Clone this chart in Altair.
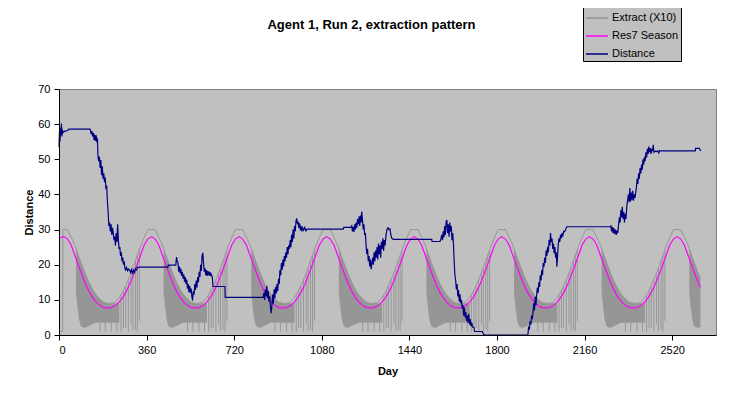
import altair as alt
import pandas as pd

FONT = "Liberation Sans"
chart_title = "Agent 1, Run 2, extraction pattern"
series_names = ["Extract (X10)", "Res7 Season", "Distance"]
series_colors = ["#969696", "#FF00FF", "#000080"]
x_ticks = [0, 360, 720, 1080, 1440, 1800, 2160, 2520]
y_ticks = [0, 10, 20, 30, 40, 50, 60, 70]

# sample days shared by the season curve and the extract envelope
grid_days = [
    20, 35, 50, 65, 80, 95, 110, 125, 140, 155, 170, 185, 200, 215, 230, 245, 260, 275, 290, 305, 320, 335, 350, 365,
    380, 395, 410, 425, 440, 455, 470, 485, 500, 515, 530, 545, 560, 575, 590, 605, 620, 635, 650, 665, 680, 695, 710, 725,
    740, 755, 770, 785, 800, 815, 830, 845, 860, 875, 890, 905, 920, 935, 950, 965, 980, 995, 1010, 1025, 1040, 1055, 1070, 1085,
    1100, 1115, 1130, 1145, 1160, 1175, 1190, 1205, 1220, 1235, 1250, 1265, 1280, 1295, 1310, 1325, 1340, 1355, 1370, 1385, 1400, 1415, 1430, 1445,
    1460, 1475, 1490, 1505, 1520, 1535, 1550, 1565, 1580, 1595, 1610, 1625, 1640, 1655, 1670, 1685, 1700, 1715, 1730, 1745, 1760, 1775, 1790, 1805,
    1820, 1835, 1850, 1865, 1880, 1895, 1910, 1925, 1940, 1955, 1970, 1985, 2000, 2015, 2030, 2045, 2060, 2075, 2090, 2105, 2120, 2135, 2150, 2165,
    2180, 2195, 2210, 2225, 2240, 2255, 2270, 2285, 2300, 2315, 2330, 2345, 2360, 2375, 2390, 2405, 2420, 2435, 2450, 2465, 2480, 2495, 2510, 2525,
    2540, 2555, 2570, 2585, 2600, 2615, 2630, 2636,
]

# Res7 Season (day 0 first, then grid_days)
season_vals = [
    27.6,
    28.0, 27.3, 25.6, 22.7, 19.8, 17.0, 14.4, 12.2, 10.5, 9.2, 8.3, 7.8, 7.7, 7.8, 8.3, 9.2, 10.5, 12.2, 14.4, 17.0, 19.8, 22.7, 25.6, 27.3,
    28.0, 27.3, 25.6, 22.7, 19.8, 17.0, 14.4, 12.2, 10.5, 9.2, 8.3, 7.8, 7.7, 7.8, 8.3, 9.2, 10.5, 12.2, 14.4, 17.0, 19.8, 22.7, 25.6, 27.3,
    28.0, 27.3, 25.6, 22.7, 19.8, 17.0, 14.4, 12.2, 10.5, 9.2, 8.3, 7.8, 7.7, 7.8, 8.3, 9.2, 10.5, 12.2, 14.4, 17.0, 19.8, 22.7, 25.6, 27.3,
    28.0, 27.3, 25.6, 22.7, 19.8, 17.0, 14.4, 12.2, 10.5, 9.2, 8.3, 7.8, 7.7, 7.8, 8.3, 9.2, 10.5, 12.2, 14.4, 17.0, 19.8, 22.7, 25.6, 27.3,
    28.0, 27.3, 25.6, 22.7, 19.8, 17.0, 14.4, 12.2, 10.5, 9.2, 8.3, 7.8, 7.7, 7.8, 8.3, 9.2, 10.5, 12.2, 14.4, 17.0, 19.8, 22.7, 25.6, 27.3,
    28.0, 27.3, 25.6, 22.7, 19.8, 17.0, 14.4, 12.2, 10.5, 9.2, 8.3, 7.8, 7.7, 7.8, 8.3, 9.2, 10.5, 12.2, 14.4, 17.0, 19.8, 22.7, 25.6, 27.3,
    28.0, 27.3, 25.6, 22.7, 19.8, 17.0, 14.4, 12.2, 10.5, 9.2, 8.3, 7.8, 7.7, 7.8, 8.3, 9.2, 10.5, 12.2, 14.4, 17.0, 19.8, 22.7, 25.6, 27.3,
    28.0, 27.3, 25.6, 22.7, 19.8, 17.0, 14.4,
    13.6,
]

# Extract (X10) upper outline (days 0, 15, 16, then grid_days)
extract_top_vals = [
    1.0, 1.0, 30.0,
    30.0, 30.0, 27.8, 25.6, 22.6, 19.8, 17.1, 14.7, 12.7, 11.2, 10.1, 9.2, 9.0, 9.0, 9.3, 10.4, 12.0, 14.2, 16.6, 19.4, 22.3, 25.2, 27.8, 30.0,
    30.0, 30.0, 27.8, 25.6, 22.6, 19.8, 17.1, 14.7, 12.7, 11.2, 10.1, 9.2, 9.0, 9.0, 9.3, 10.4, 12.0, 14.2, 16.6, 19.4, 22.3, 25.2, 27.8, 30.0,
    30.0, 30.0, 27.8, 25.6, 22.6, 19.8, 17.1, 14.7, 12.7, 11.2, 10.1, 9.2, 9.0, 9.0, 9.3, 10.4, 12.0, 14.2, 16.6, 19.4, 22.3, 25.2, 27.8, 30.0,
    30.0, 30.0, 27.8, 25.6, 22.6, 19.8, 17.1, 14.7, 12.7, 11.2, 10.1, 9.2, 9.0, 9.0, 9.3, 10.4, 12.0, 14.2, 16.6, 19.4, 22.3, 25.2, 27.8, 30.0,
    30.0, 30.0, 27.8, 25.6, 22.6, 19.8, 17.1, 14.7, 12.7, 11.2, 10.1, 9.2, 9.0, 9.0, 9.3, 10.4, 12.0, 14.2, 16.6, 19.4, 22.3, 25.2, 27.8, 30.0,
    30.0, 30.0, 27.8, 25.6, 22.6, 19.8, 17.1, 14.7, 12.7, 11.2, 10.1, 9.2, 9.0, 9.0, 9.3, 10.4, 12.0, 14.2, 16.6, 19.4, 22.3, 25.2, 27.8, 30.0,
    30.0, 30.0, 27.8, 25.6, 22.6, 19.8, 17.1, 14.7, 12.7, 11.2, 10.1, 9.2, 9.0, 9.0, 9.3, 10.4, 12.0, 14.2, 16.6, 19.4, 22.3, 25.2, 27.8, 30.0,
    30.0, 30.0, 27.8, 25.6, 22.6, 19.8, 17.1,
    16.1,
]

# Extract (X10) densely oscillating stretches: (cycle, day, low, high)
extract_band = [
    (0, 70, 12.0, 24.6), (0, 76, 8.0, 23.4), (0, 82, 4.5, 22.2), (0, 90, 2.5, 20.7), (0, 105, 2.0, 18.0), (0, 120, 2.5, 15.5), (0, 135, 3.0, 13.4),
    (0, 150, 3.5, 11.7), (0, 160, 3.5, 10.8), (0, 180, 3.5, 9.5), (0, 200, 3.5, 9.0), (0, 220, 3.5, 9.0), (0, 235, 3.5, 9.0), (0, 248, 3.5, 9.0),
    (1, 430, 12.0, 24.6), (1, 436, 8.0, 23.4), (1, 442, 4.5, 22.2), (1, 450, 2.5, 20.7), (1, 465, 2.0, 18.0), (1, 480, 2.5, 15.5), (1, 495, 3.0, 13.4),
    (1, 510, 3.5, 11.7), (1, 520, 3.5, 10.8), (1, 540, 3.5, 9.5), (1, 560, 3.5, 9.0), (1, 580, 3.5, 9.0), (1, 595, 3.5, 9.0), (1, 608, 3.5, 9.0),
    (2, 790, 12.0, 24.6), (2, 796, 8.0, 23.4), (2, 802, 4.5, 22.2), (2, 810, 2.5, 20.7), (2, 825, 2.0, 18.0), (2, 840, 2.5, 15.5), (2, 855, 3.0, 13.4),
    (2, 870, 3.5, 11.7), (2, 880, 3.5, 10.8), (2, 900, 3.5, 9.5), (2, 920, 3.5, 9.0), (2, 940, 3.5, 9.0), (2, 955, 3.5, 9.0), (2, 968, 3.5, 9.0),
    (3, 1150, 12.0, 24.6), (3, 1156, 8.0, 23.4), (3, 1162, 4.5, 22.2), (3, 1170, 2.5, 20.7), (3, 1185, 2.0, 18.0), (3, 1200, 2.5, 15.5), (3, 1215, 3.0, 13.4),
    (3, 1230, 3.5, 11.7), (3, 1240, 3.5, 10.8), (3, 1260, 3.5, 9.5), (3, 1280, 3.5, 9.0), (3, 1300, 3.5, 9.0), (3, 1315, 3.5, 9.0), (3, 1328, 3.5, 9.0),
    (4, 1510, 12.0, 24.6), (4, 1516, 8.0, 23.4), (4, 1522, 4.5, 22.2), (4, 1530, 2.5, 20.7), (4, 1545, 2.0, 18.0), (4, 1560, 2.5, 15.5), (4, 1575, 3.0, 13.4),
    (4, 1590, 3.5, 11.7), (4, 1600, 3.5, 10.8), (4, 1620, 3.5, 9.5), (4, 1640, 3.5, 9.0), (4, 1660, 3.5, 9.0), (4, 1675, 3.5, 9.0), (4, 1688, 3.5, 9.0),
    (5, 1870, 12.0, 24.6), (5, 1876, 8.0, 23.4), (5, 1882, 4.5, 22.2), (5, 1890, 2.5, 20.7), (5, 1905, 2.0, 18.0), (5, 1920, 2.5, 15.5), (5, 1935, 3.0, 13.4),
    (5, 1950, 3.5, 11.7), (5, 1960, 3.5, 10.8), (5, 1980, 3.5, 9.5), (5, 2000, 3.5, 9.0), (5, 2020, 3.5, 9.0), (5, 2035, 3.5, 9.0), (5, 2048, 3.5, 9.0),
    (6, 2230, 12.0, 24.6), (6, 2236, 8.0, 23.4), (6, 2242, 4.5, 22.2), (6, 2250, 2.5, 20.7), (6, 2265, 2.0, 18.0), (6, 2280, 2.5, 15.5), (6, 2295, 3.0, 13.4),
    (6, 2310, 3.5, 11.7), (6, 2320, 3.5, 10.8), (6, 2340, 3.5, 9.5), (6, 2360, 3.5, 9.0), (6, 2380, 3.5, 9.0), (6, 2395, 3.5, 9.0), (6, 2408, 3.5, 9.0),
    (7, 2590, 12.0, 24.6), (7, 2596, 8.0, 23.4), (7, 2602, 4.5, 22.2), (7, 2610, 2.5, 20.7), (7, 2625, 2.0, 18.0), (7, 2636, 2.3, 16.1),
]

# Extract (X10) isolated drops: (day, low, high)
extract_spikes = [
    (255, 1.0, 11.3), (265, 2.0, 12.6), (274, 2.0, 14.0), (285, 1.0, 15.8), (296, 3.0, 17.6), (304, 1.2, 19.2), (314, 1.5, 21.1), (322, 1.0, 22.7), (330, 4.0, 24.2),
    (615, 1.0, 11.3), (625, 2.0, 12.6), (634, 2.0, 14.0), (645, 1.0, 15.8), (656, 3.0, 17.6), (664, 1.2, 19.2), (674, 1.5, 21.1), (682, 1.0, 22.7), (690, 4.0, 24.2),
    (975, 1.0, 11.3), (985, 2.0, 12.6), (994, 2.0, 14.0), (1005, 1.0, 15.8), (1016, 3.0, 17.6), (1024, 1.2, 19.2), (1034, 1.5, 21.1), (1042, 1.0, 22.7), (1050, 4.0, 24.2),
    (1335, 1.0, 11.3), (1345, 2.0, 12.6), (1354, 2.0, 14.0), (1365, 1.0, 15.8), (1376, 3.0, 17.6), (1384, 1.2, 19.2), (1394, 1.5, 21.1), (1402, 1.0, 22.7), (1410, 4.0, 24.2),
    (1695, 1.0, 11.3), (1705, 2.0, 12.6), (1714, 2.0, 14.0), (1725, 1.0, 15.8), (1736, 3.0, 17.6), (1744, 1.2, 19.2), (1754, 1.5, 21.1), (1762, 1.0, 22.7), (1770, 4.0, 24.2),
    (2055, 1.0, 11.3), (2065, 2.0, 12.6), (2074, 2.0, 14.0), (2085, 1.0, 15.8), (2096, 3.0, 17.6), (2104, 1.2, 19.2), (2114, 1.5, 21.1), (2122, 1.0, 22.7), (2130, 4.0, 24.2),
    (2415, 1.0, 11.3), (2425, 2.0, 12.6), (2434, 2.0, 14.0), (2445, 1.0, 15.8), (2456, 3.0, 17.6), (2464, 1.2, 19.2), (2474, 1.5, 21.1), (2482, 1.0, 22.7), (2490, 4.0, 24.2),
    (168, 1.0, 3.6), (190, 1.0, 3.6), (215, 1.0, 3.6), (238, 1.0, 3.6),
    (528, 1.0, 3.6), (550, 1.0, 3.6), (575, 1.0, 3.6), (598, 1.0, 3.6),
    (888, 1.0, 3.6), (910, 1.0, 3.6), (935, 1.0, 3.6), (958, 1.0, 3.6),
    (1248, 1.0, 3.6), (1270, 1.0, 3.6), (1295, 1.0, 3.6), (1318, 1.0, 3.6),
    (1608, 1.0, 3.6), (1630, 1.0, 3.6), (1655, 1.0, 3.6), (1678, 1.0, 3.6),
    (1968, 1.0, 3.6), (1990, 1.0, 3.6), (2015, 1.0, 3.6), (2038, 1.0, 3.6),
    (2328, 1.0, 3.6), (2350, 1.0, 3.6), (2375, 1.0, 3.6), (2398, 1.0, 3.6),
]

# Distance: (day, value)
distance_points = [
    (0, 53.5), (2, 58.0), (4, 55.0), (6, 59.0), (8, 57.0), (10, 60.2), (12, 56.5), (14, 58.5), (16, 57.5), (20, 57.8), (24, 58.0), (36, 58.2), (40, 58.6), (128, 58.6),
    (132, 57.2), (135, 58.0), (138, 56.5), (141, 57.5), (144, 55.5), (147, 57.0), (150, 55.2), (153, 56.8), (156, 54.8), (158, 56.0), (160, 51.0), (163, 49.5),
    (166, 50.8), (169, 47.5), (172, 49.8), (175, 45.5), (178, 48.0), (181, 44.5), (184, 46.0), (187, 43.5), (190, 44.8), (193, 41.5), (196, 42.5), (199, 38.0),
    (201, 36.0), (203, 33.5), (205, 31.0), (208, 32.0), (211, 29.5), (214, 31.5), (217, 28.5), (220, 30.5), (223, 29.0), (226, 27.0), (229, 28.0), (232, 25.5),
    (235, 29.0), (238, 26.5), (241, 31.5), (244, 27.0), (247, 24.5), (250, 25.0), (253, 22.5), (256, 23.5), (259, 21.0), (262, 22.0), (265, 20.0), (268, 21.0),
    (271, 19.0), (274, 18.5), (278, 19.2), (282, 18.3), (286, 18.8), (290, 18.5), (294, 17.8), (298, 18.6), (302, 17.3), (306, 18.4), (310, 17.8), (314, 18.9),
    (318, 18.5), (322, 19.2), (330, 19.3), (448, 19.3), (449, 19.9), (480, 19.9),
    (483, 22.2), (486, 21.0), (489, 20.5), (492, 18.0), (495, 19.5), (498, 17.5), (501, 18.8), (504, 16.8), (507, 18.0), (510, 16.0), (513, 17.2), (516, 15.2),
    (519, 16.5), (522, 14.5), (525, 15.8), (528, 13.2), (531, 14.5), (534, 12.2), (537, 14.0), (540, 12.0), (543, 13.2), (546, 11.0), (549, 9.8), (552, 12.5),
    (555, 11.5), (558, 14.5), (561, 12.8), (564, 15.5), (567, 13.5), (570, 16.5), (573, 15.0), (576, 18.0), (579, 16.5), (582, 20.0), (585, 18.2), (588, 22.5),
    (591, 23.4), (594, 20.5), (597, 18.0), (600, 19.0), (603, 17.0), (606, 18.5), (609, 16.8), (612, 18.2), (615, 17.0), (618, 18.0), (621, 16.8), (624, 17.5),
    (627, 17.0), (630, 16.5), (633, 13.8), (682, 13.8), (683, 10.7), (839, 10.7),
    (842, 12.0), (845, 10.0), (848, 13.0), (851, 11.0), (854, 14.0), (857, 10.5), (860, 12.5), (863, 9.5), (866, 11.0), (869, 8.0), (872, 6.2), (875, 8.5),
    (878, 11.5), (881, 9.0), (884, 13.0), (887, 10.5), (890, 13.7), (893, 11.8), (896, 14.5), (899, 12.5), (902, 16.0), (905, 14.5), (908, 18.5), (911, 17.0),
    (914, 20.5), (917, 18.5), (920, 21.5), (923, 19.5), (926, 22.5), (929, 21.0), (932, 23.5), (935, 22.0), (938, 25.0), (941, 23.0), (944, 25.5), (947, 24.5),
    (950, 27.0), (953, 25.0), (956, 28.5), (959, 26.5), (962, 30.0), (965, 27.5), (968, 31.0), (971, 29.5), (974, 32.5), (977, 33.2), (980, 31.5), (983, 32.3),
    (986, 30.5), (989, 31.8), (992, 29.8), (995, 31.0), (998, 29.5), (1001, 30.5), (1005, 29.8), (1010, 30.6), (1015, 29.6), (1020, 30.1), (1168, 30.1),
    (1170, 30.6), (1200, 30.6),
    (1203, 31.0), (1206, 29.5), (1209, 30.8), (1212, 29.3), (1215, 31.5), (1218, 30.0), (1221, 32.0), (1224, 30.5), (1227, 33.0), (1230, 31.5), (1233, 33.8),
    (1236, 31.0), (1239, 34.0), (1242, 32.0), (1244, 35.1), (1247, 33.0), (1250, 30.0), (1253, 31.5), (1256, 28.5), (1259, 29.0), (1262, 25.5), (1265, 23.0),
    (1268, 24.5), (1271, 21.0), (1274, 22.5), (1277, 19.5), (1280, 21.5), (1283, 18.7), (1286, 20.5), (1289, 22.0), (1292, 20.0), (1295, 23.5), (1298, 21.0),
    (1301, 24.0), (1304, 22.0), (1307, 25.0), (1310, 21.5), (1313, 26.0), (1316, 23.0), (1319, 25.5), (1322, 22.0), (1325, 26.5), (1328, 24.5), (1331, 27.5),
    (1334, 24.0), (1337, 27.0), (1340, 25.5), (1344, 28.5), (1348, 30.0), (1352, 30.5), (1356, 30.0), (1360, 30.2), (1364, 28.5), (1368, 27.5), (1374, 27.2),
    (1532, 27.2), (1533, 26.6), (1566, 26.6),
    (1570, 27.5), (1573, 28.5), (1576, 27.0), (1579, 29.5), (1582, 27.8), (1585, 31.0), (1588, 28.5), (1591, 32.2), (1594, 32.7), (1597, 29.0), (1600, 31.5),
    (1603, 28.0), (1606, 32.0), (1609, 29.5), (1612, 31.0), (1615, 27.0), (1618, 29.0), (1621, 26.0), (1624, 21.0), (1627, 17.0), (1630, 15.6), (1633, 13.0),
    (1636, 14.5), (1639, 11.0), (1642, 12.8), (1645, 9.5), (1648, 11.5), (1651, 9.1), (1654, 10.0), (1657, 7.5), (1660, 8.5), (1663, 5.5), (1666, 7.8),
    (1669, 5.0), (1672, 6.5), (1675, 4.0), (1678, 5.5), (1681, 3.5), (1684, 6.0), (1687, 3.0), (1690, 4.5), (1693, 2.5), (1696, 3.5), (1700, 2.2), (1705, 2.2),
    (1708, 1.0), (1740, 1.0), (1745, 0.2), (1750, 0.0), (1927, 0.0),
    (1930, 2.4), (1933, 1.5), (1936, 4.0), (1939, 3.0), (1942, 5.5), (1945, 4.5), (1948, 6.5), (1951, 9.0), (1954, 7.0), (1957, 10.9), (1960, 8.5), (1963, 11.5),
    (1966, 13.5), (1969, 12.0), (1972, 15.0), (1975, 13.7), (1978, 17.0), (1981, 15.5), (1984, 18.5), (1987, 17.0), (1990, 20.5), (1993, 19.4), (1996, 22.0),
    (1999, 20.5), (2002, 24.0), (2005, 22.5), (2008, 25.1), (2011, 23.5), (2014, 27.0), (2017, 25.5), (2020, 29.0), (2023, 26.5), (2026, 27.5), (2029, 24.5),
    (2032, 26.0), (2035, 23.3), (2038, 25.0), (2041, 22.0), (2044, 23.5), (2046, 19.4), (2049, 22.5), (2052, 26.0), (2055, 27.5), (2058, 26.5), (2061, 28.5),
    (2064, 27.5), (2067, 29.0), (2070, 28.0), (2074, 29.5), (2078, 29.4), (2082, 30.0), (2087, 30.8), (2265, 30.8),
    (2268, 31.0), (2271, 29.5), (2274, 30.8), (2277, 29.0), (2280, 30.5), (2283, 28.8), (2286, 30.0), (2290, 28.5), (2293, 29.8), (2296, 29.0), (2300, 31.5),
    (2303, 33.5), (2306, 32.0), (2309, 35.5), (2312, 33.5), (2315, 36.5), (2318, 33.0), (2321, 35.0), (2324, 32.0), (2327, 34.5), (2330, 33.0), (2334, 37.0),
    (2337, 38.4), (2340, 40.0), (2343, 37.8), (2346, 41.8), (2349, 38.0), (2352, 40.5), (2355, 38.5), (2358, 41.0), (2361, 38.2), (2364, 40.0), (2367, 39.0),
    (2370, 40.5), (2373, 42.0), (2376, 44.5), (2379, 43.0), (2382, 46.0), (2385, 44.5), (2388, 47.5), (2391, 46.0), (2394, 48.5), (2397, 47.0), (2400, 50.0),
    (2403, 48.5), (2406, 50.7), (2409, 49.5), (2412, 52.0), (2415, 50.5), (2418, 53.0), (2421, 51.5), (2424, 53.6), (2427, 52.0), (2430, 53.2), (2433, 51.5),
    (2436, 53.0), (2439, 52.3), (2442, 54.1), (2445, 52.0), (2450, 52.3), (2455, 52.2), (2460, 52.4), (2465, 51.8), (2468, 52.5), (2471, 52.4), (2615, 52.4),
    (2616, 53.1), (2632, 53.1), (2635, 52.6), (2638, 52.4),
]

# ---------------------------------------------------------------- tables
season_df = pd.DataFrame({"day": [0] + grid_days, "value": season_vals})
season_df["series"] = "Res7 Season"
extract_df = pd.DataFrame({"day": [0, 15, 16] + grid_days, "value": extract_top_vals})
extract_df["series"] = "Extract (X10)"
distance_df = pd.DataFrame(distance_points, columns=["day", "value"])
distance_df["series"] = "Distance"
band_df = pd.DataFrame(extract_band, columns=["cycle", "day", "low", "high"])
spike_df = pd.DataFrame(extract_spikes, columns=["day", "low", "high"])
title_df = pd.DataFrame({"label": [chart_title]})

x_scale = alt.Scale(domain=[0, 2700], nice=False, zero=False)
y_scale = alt.Scale(domain=[0, 70], nice=False)

x_axis = alt.Axis(
    values=x_ticks, format="d", grid=False, tickSize=5, labelPadding=13,
    labelBaseline="alphabetic", titleY=39, titleBaseline="alphabetic", zindex=1,
)
y_axis = alt.Axis(
    values=y_ticks, format="d", grid=False, tickSize=5, labelPadding=4,
    titleX=-27, titleY=123, titleAngle=270, titleBaseline="alphabetic",
    titleAlign="center", zindex=1,
)


def X():
    return alt.X("day:Q", scale=x_scale, axis=x_axis, title="Day")


color = alt.Color(
    "series:N",
    scale=alt.Scale(domain=series_names, range=series_colors),
    legend=alt.Legend(
        title=None, orient="none", legendX=524, legendY=-85,
        fillColor="#C0C0C0", strokeColor="#000000", padding=2,
        labelFont=FONT, labelFontSize=11, labelColor="#000000", labelOffset=3,
        symbolType="stroke", symbolSize=484, symbolStrokeWidth=1.5, rowPadding=1,
    ),
)

band = alt.Chart(band_df).mark_area(color="#969696", opacity=1, strokeWidth=0).encode(
    x=X(),
    y=alt.Y("low:Q", scale=y_scale, axis=y_axis, title="Distance"),
    y2="high:Q",
    detail="cycle:N",
)
spikes = alt.Chart(spike_df).mark_rule(color="#969696", strokeWidth=1).encode(
    x=X(),
    y=alt.Y("low:Q", scale=y_scale, axis=y_axis, title="Distance"),
    y2="high:Q",
)


def line(df, width):
    return alt.Chart(df).mark_line(strokeWidth=width).encode(
        x=X(),
        y=alt.Y("value:Q", scale=y_scale, axis=y_axis, title="Distance"),
        color=color,
    )


title_text = alt.Chart(title_df).mark_text(
    font=FONT, fontSize=13, fontWeight="bold", color="#000000",
    align="center", baseline="alphabetic",
).encode(text="label:N", x=alt.value(312.5), y=alt.value(-60))

chart = (
    alt.layer(band, spikes, line(extract_df, 1), line(season_df, 1.2), line(distance_df, 1.2), title_text)
    .properties(
        width=657,
        height=246,
        autosize=alt.AutoSizeParams(type="none"),
        padding={"left": 51, "top": 81, "right": 20, "bottom": 53},
    )
    .configure(background="#FFFFFF")
    .configure_view(fill="#C0C0C0", stroke="#808080", strokeWidth=1)
    .configure_axis(
        domainColor="#000000", tickColor="#000000", labelColor="#000000",
        labelFont=FONT, labelFontSize=11, titleFont=FONT, titleFontSize=11,
        titleFontWeight="bold", titleColor="#000000", domainWidth=1, tickWidth=1,
    )
)

chart.save("out.html", embed_options={"renderer": "svg", "actions": False})
